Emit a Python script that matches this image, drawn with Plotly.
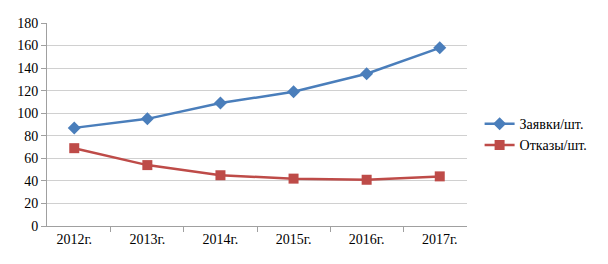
import plotly.graph_objects as go

categories = ["2012г.", "2013г.", "2014г.", "2015г.", "2016г.", "2017г."]
zayavki = [87, 95, 109, 119, 135, 158]
otkazy = [69, 54, 45, 42, 41, 44]
y_ticks = [0, 20, 40, 60, 80, 100, 120, 140, 160, 180]

fig = go.Figure()
fig.add_trace(go.Scatter(x=categories, y=zayavki, mode="lines+markers", name="Заявки/шт.",
                         line=dict(color="#4a7ebb", width=2.5),
                         marker=dict(symbol="diamond", size=10, color="#4a7ebb")))
fig.add_trace(go.Scatter(x=categories, y=otkazy, mode="lines+markers", name="Отказы/шт.",
                         line=dict(color="#be4b48", width=2.5),
                         marker=dict(symbol="square", size=10, color="#be4b48")))

fig.update_layout(
    width=600, height=256,
    margin=dict(l=39, r=141, t=8, b=38),
    paper_bgcolor="white", plot_bgcolor="white",
    font=dict(family="Times New Roman, Liberation Serif, DejaVu Serif, serif", size=14, color="#000000"),
    legend=dict(x=1.03, y=0.45, xanchor="left", yanchor="middle",
                font=dict(size=14), tracegroupgap=4, itemwidth=30),
    xaxis=dict(type="category", showgrid=False, showline=True, linecolor="#a0a0a0", linewidth=1,
               ticks="outside", tickson="boundaries", ticklen=5, tickcolor="#a0a0a0"),
    yaxis=dict(range=[0, 180], tickvals=y_ticks, showgrid=True, gridcolor="#d0d0d0", gridwidth=1,
               showline=True, linecolor="#a0a0a0", linewidth=1, ticks="outside", ticklen=5,
               tickcolor="#a0a0a0", zeroline=False),
)

fig.write_html("out.html")
